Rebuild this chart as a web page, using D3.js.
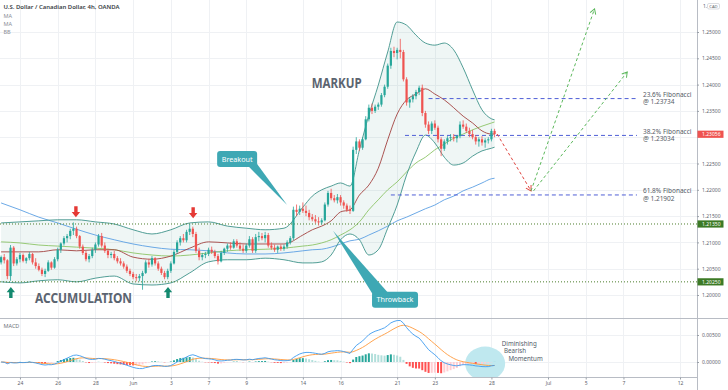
<!DOCTYPE html>
<html>
<head>
<meta charset="utf-8">
<script src="https://cdn.jsdelivr.net/npm/d3@7"></script>
<style>
  html, body { margin: 0; padding: 0; background: #fff; }
  svg { display: block; font-family: 'Noto Sans', Roboto, sans-serif; }
</style>
</head>
<body>
<svg width="728" height="390"></svg>
<script>
// 4h bars from Fri 21 May 2021, six per trading day: [open, high, low, close]
const bars = [
  [1.2062, 1.2075, 1.2058, 1.2072], [1.2072, 1.2078, 1.2060, 1.2066], [1.2066, 1.2068, 1.2030, 1.2036],
  [1.2036, 1.2095, 1.2027, 1.2090], [1.2090, 1.2093, 1.2055, 1.2060], [1.2060, 1.2072, 1.2056, 1.2068],
  [1.2068, 1.2080, 1.2062, 1.2076], [1.2076, 1.2079, 1.2062, 1.2065], [1.2065, 1.2072, 1.2060, 1.2070],
  [1.2070, 1.2082, 1.2066, 1.2078], [1.2078, 1.2080, 1.2058, 1.2062], [1.2062, 1.2070, 1.2050, 1.2055],
  [1.2055, 1.2060, 1.2045, 1.2048], [1.2048, 1.2052, 1.2036, 1.2040], [1.2040, 1.2050, 1.2034, 1.2046],
  [1.2046, 1.2066, 1.2044, 1.2062], [1.2062, 1.2064, 1.2048, 1.2052], [1.2052, 1.2072, 1.2050, 1.2068],
  [1.2068, 1.2090, 1.2064, 1.2086], [1.2086, 1.2100, 1.2080, 1.2098], [1.2098, 1.2112, 1.2094, 1.2108],
  [1.2108, 1.2116, 1.2100, 1.2112], [1.2112, 1.2126, 1.2106, 1.2122], [1.2122, 1.2138, 1.2114, 1.2126],
  [1.2126, 1.2130, 1.2108, 1.2112], [1.2112, 1.2114, 1.2088, 1.2092], [1.2092, 1.2096, 1.2076, 1.2080],
  [1.2080, 1.2084, 1.2064, 1.2068], [1.2068, 1.2078, 1.2062, 1.2074], [1.2074, 1.2090, 1.2070, 1.2086],
  [1.2086, 1.2100, 1.2080, 1.2096], [1.2096, 1.2116, 1.2092, 1.2112], [1.2112, 1.2118, 1.2090, 1.2094],
  [1.2094, 1.2100, 1.2080, 1.2084], [1.2084, 1.2088, 1.2070, 1.2076], [1.2076, 1.2082, 1.2070, 1.2078],
  [1.2078, 1.2084, 1.2066, 1.2070], [1.2070, 1.2074, 1.2060, 1.2064], [1.2064, 1.2070, 1.2056, 1.2060],
  [1.2060, 1.2064, 1.2050, 1.2054], [1.2054, 1.2058, 1.2042, 1.2046], [1.2046, 1.2050, 1.2036, 1.2040],
  [1.2040, 1.2044, 1.2030, 1.2034], [1.2034, 1.2040, 1.2026, 1.2032], [1.2032, 1.2040, 1.2026, 1.2036],
  [1.2036, 1.2046, 1.2010, 1.2042], [1.2042, 1.2066, 1.2040, 1.2062], [1.2062, 1.2068, 1.2052, 1.2058],
  [1.2058, 1.2074, 1.2054, 1.2070], [1.2070, 1.2072, 1.2056, 1.2060], [1.2060, 1.2064, 1.2046, 1.2050],
  [1.2050, 1.2054, 1.2038, 1.2042], [1.2042, 1.2046, 1.2030, 1.2034], [1.2034, 1.2050, 1.2030, 1.2046],
  [1.2046, 1.2064, 1.2042, 1.2060], [1.2060, 1.2086, 1.2058, 1.2082], [1.2082, 1.2104, 1.2078, 1.2100],
  [1.2100, 1.2112, 1.2094, 1.2108], [1.2108, 1.2116, 1.2100, 1.2104], [1.2104, 1.2124, 1.2100, 1.2120],
  [1.2120, 1.2135, 1.2114, 1.2126], [1.2126, 1.2130, 1.2110, 1.2116], [1.2116, 1.2120, 1.2080, 1.2084],
  [1.2084, 1.2090, 1.2066, 1.2072], [1.2072, 1.2080, 1.2066, 1.2076], [1.2076, 1.2082, 1.2070, 1.2078],
  [1.2078, 1.2090, 1.2074, 1.2086], [1.2086, 1.2092, 1.2078, 1.2082], [1.2082, 1.2086, 1.2070, 1.2074],
  [1.2074, 1.2078, 1.2058, 1.2064], [1.2064, 1.2084, 1.2062, 1.2080], [1.2080, 1.2090, 1.2076, 1.2088],
  [1.2088, 1.2098, 1.2082, 1.2094], [1.2094, 1.2100, 1.2086, 1.2090], [1.2090, 1.2106, 1.2088, 1.2102],
  [1.2102, 1.2106, 1.2090, 1.2094], [1.2094, 1.2100, 1.2084, 1.2088], [1.2088, 1.2096, 1.2080, 1.2084],
  [1.2084, 1.2098, 1.2080, 1.2094], [1.2094, 1.2112, 1.2090, 1.2106], [1.2106, 1.2110, 1.2080, 1.2084],
  [1.2084, 1.2116, 1.2080, 1.2110], [1.2110, 1.2120, 1.2102, 1.2112], [1.2112, 1.2118, 1.2104, 1.2108],
  [1.2108, 1.2120, 1.2100, 1.2114], [1.2114, 1.2118, 1.2090, 1.2094], [1.2094, 1.2100, 1.2086, 1.2090],
  [1.2090, 1.2096, 1.2082, 1.2086], [1.2086, 1.2094, 1.2080, 1.2092], [1.2092, 1.2096, 1.2084, 1.2088],
  [1.2088, 1.2096, 1.2084, 1.2092], [1.2092, 1.2104, 1.2088, 1.2100], [1.2100, 1.2112, 1.2096, 1.2108],
  [1.2108, 1.2168, 1.2104, 1.2162], [1.2162, 1.2172, 1.2150, 1.2158], [1.2158, 1.2170, 1.2152, 1.2164],
  [1.2164, 1.2176, 1.2156, 1.2160], [1.2160, 1.2170, 1.2150, 1.2156], [1.2156, 1.2162, 1.2142, 1.2148],
  [1.2148, 1.2154, 1.2140, 1.2144], [1.2144, 1.2152, 1.2136, 1.2140], [1.2140, 1.2148, 1.2132, 1.2138],
  [1.2138, 1.2146, 1.2134, 1.2142], [1.2142, 1.2176, 1.2140, 1.2172], [1.2172, 1.2198, 1.2168, 1.2194],
  [1.2194, 1.2202, 1.2180, 1.2184], [1.2184, 1.2190, 1.2176, 1.2180], [1.2180, 1.2192, 1.2174, 1.2186],
  [1.2186, 1.2190, 1.2170, 1.2176], [1.2176, 1.2180, 1.2164, 1.2170], [1.2170, 1.2174, 1.2158, 1.2162],
  [1.2162, 1.2170, 1.2154, 1.2160], [1.2160, 1.2282, 1.2158, 1.2276], [1.2276, 1.2300, 1.2268, 1.2292],
  [1.2292, 1.2296, 1.2274, 1.2280], [1.2280, 1.2300, 1.2276, 1.2296], [1.2296, 1.2340, 1.2294, 1.2334],
  [1.2334, 1.2362, 1.2330, 1.2356], [1.2356, 1.2364, 1.2344, 1.2350], [1.2350, 1.2362, 1.2346, 1.2358],
  [1.2358, 1.2366, 1.2352, 1.2362], [1.2362, 1.2384, 1.2358, 1.2380], [1.2380, 1.2400, 1.2376, 1.2396],
  [1.2396, 1.2440, 1.2392, 1.2436], [1.2436, 1.2470, 1.2430, 1.2464], [1.2464, 1.2472, 1.2452, 1.2460],
  [1.2460, 1.2470, 1.2448, 1.2466], [1.2466, 1.2487, 1.2450, 1.2462], [1.2462, 1.2466, 1.2406, 1.2410],
  [1.2410, 1.2414, 1.2360, 1.2366], [1.2366, 1.2376, 1.2356, 1.2372], [1.2372, 1.2382, 1.2366, 1.2378],
  [1.2378, 1.2390, 1.2372, 1.2386], [1.2386, 1.2398, 1.2380, 1.2394], [1.2394, 1.2400, 1.2340, 1.2346],
  [1.2346, 1.2350, 1.2318, 1.2324], [1.2324, 1.2330, 1.2306, 1.2312], [1.2312, 1.2330, 1.2306, 1.2326],
  [1.2326, 1.2332, 1.2314, 1.2318], [1.2318, 1.2322, 1.2290, 1.2296], [1.2296, 1.2300, 1.2264, 1.2278],
  [1.2278, 1.2296, 1.2274, 1.2292], [1.2292, 1.2302, 1.2286, 1.2298], [1.2298, 1.2306, 1.2292, 1.2300],
  [1.2300, 1.2306, 1.2292, 1.2298], [1.2298, 1.2304, 1.2290, 1.2302], [1.2302, 1.2330, 1.2298, 1.2324],
  [1.2324, 1.2332, 1.2316, 1.2320], [1.2320, 1.2326, 1.2308, 1.2312], [1.2312, 1.2318, 1.2300, 1.2306],
  [1.2306, 1.2314, 1.2296, 1.2300], [1.2300, 1.2304, 1.2286, 1.2292], [1.2292, 1.2300, 1.2282, 1.2296],
  [1.2296, 1.2302, 1.2284, 1.2290], [1.2290, 1.2298, 1.2280, 1.2294], [1.2294, 1.2300, 1.2288, 1.2296],
  [1.2296, 1.2316, 1.2292, 1.2312], [1.2312, 1.2316, 1.2300, 1.2306],
];

// trading-day index (0 = 21 May) of each date label on the time axis
const dayTicks = [1, 3, 5, 7, 9, 11, 13, 16, 18, 21, 23, 26, 29, 31, 33, 36];
const dayLabels = ['24', '26', '28', 'Jun', '3', '7', '9', '14', '16', '21', '23', '28', 'Jul', '5', '7', '12'];
const priceTicks = [1.200, 1.205, 1.210, 1.215, 1.220, 1.225, 1.230, 1.235, 1.240, 1.245, 1.250];
const hiddenTicks = [1.230];
const macdTicks = [0, 0.005];

// indicator lines at these bar indices
const sampleBars = [0, 6, 12, 18, 24, 30, 36, 42, 48, 54, 60, 66, 72, 78, 84, 90, 96, 99, 102, 105, 108,
  111, 114, 117, 120, 123, 126, 129, 132, 135, 138, 141, 144, 147, 150, 153, 156, 157];
const bbUpper = [1.2137, 1.2139, 1.2141, 1.2143, 1.2143, 1.2139, 1.2135, 1.2124, 1.2116, 1.2124, 1.2137,
  1.2139, 1.2131, 1.2127, 1.2124, 1.2127, 1.2167, 1.2188, 1.2200, 1.2207, 1.2213, 1.2207, 1.2276, 1.2342,
  1.2399, 1.2462, 1.2519, 1.2513, 1.2494, 1.2479, 1.2475, 1.2479, 1.2466, 1.2432, 1.2390, 1.2352, 1.2335, 1.2333];
const bbBasis = [1.2082, 1.2082, 1.2082, 1.2086, 1.2084, 1.2086, 1.2086, 1.2072, 1.2068, 1.2074, 1.2089,
  1.2101, 1.2099, 1.2097, 1.2097, 1.2097, 1.2114, 1.2124, 1.2131, 1.2141, 1.2158, 1.2162, 1.2190, 1.2209,
  1.2241, 1.2295, 1.2344, 1.2371, 1.2382, 1.2392, 1.2382, 1.2371, 1.2356, 1.2340, 1.2327, 1.2312, 1.2306, 1.2306];
const bbLower = [1.2025, 1.2023, 1.2027, 1.2029, 1.2025, 1.2032, 1.2036, 1.2021, 1.2019, 1.2023, 1.2042,
  1.2063, 1.2067, 1.2067, 1.2070, 1.2067, 1.2061, 1.2061, 1.2063, 1.2076, 1.2105, 1.2116, 1.2105, 1.2076,
  1.2086, 1.2127, 1.2171, 1.2228, 1.2272, 1.2304, 1.2289, 1.2262, 1.2247, 1.2251, 1.2264, 1.2274, 1.2279, 1.2281];
const maGreen = [1.2101, 1.2099, 1.2095, 1.2093, 1.2091, 1.2089, 1.2086, 1.2080, 1.2076, 1.2074, 1.2076,
  1.2080, 1.2084, 1.2086, 1.2087, 1.2089, 1.2093, 1.2095, 1.2099, 1.2105, 1.2114, 1.2124, 1.2139, 1.2162,
  1.2181, 1.2200, 1.2215, 1.2234, 1.2251, 1.2262, 1.2276, 1.2287, 1.2298, 1.2306, 1.2314, 1.2321, 1.2327, 1.2329];
const maBlue = [1.2175, 1.2162, 1.2148, 1.2137, 1.2125, 1.2114, 1.2105, 1.2097, 1.2091, 1.2087, 1.2086,
  1.2084, 1.2080, 1.2078, 1.2078, 1.2080, 1.2084, 1.2086, 1.2087, 1.2091, 1.2097, 1.2103, 1.2106, 1.2114,
  1.2122, 1.2131, 1.2141, 1.2148, 1.2156, 1.2164, 1.2171, 1.2181, 1.2188, 1.2198, 1.2205, 1.2213, 1.2221, 1.2222];

const fibNames = ['23.6% Fibonacci', '38.2% Fibonacci', '61.8% Fibonacci'];
const fibValues = [1.23734, 1.23034, 1.21902];
const fibFromBar = [136, 128.5, 124];
const fibToBar = 202.3;
const supportLevels = [1.2135, 1.2025];
const lastPrice = 1.23056;

// arrows marking the range tops and bottoms: [bar, price at the arrow tip]
const topArrows = [[23.8, 1.2148], [61.1, 1.2146]];
const bottomArrows = [[3.1, 1.2015], [53.1, 1.2015]];
// projected path: [bar, price] pairs
const dropPath = [[157.8, 1.2306], [168.6, 1.2198]];
const risePaths = [
  [[168.6, 1.2198], [188.8, 1.2544]],
  [[169.4, 1.2198], [199.2, 1.2424]],
];

const W = 728;
const plotW = 697;
const mainBottom = 318;
const macdBottom = 378;

const x = d3.scaleLinear().domain([-0.35, 221.4]).range([0, plotW]);
const y = d3.scaleLinear().domain([1.2, 1.25]).range([295, 32]);
const yM = d3.scaleLinear().domain([0, 0.005]).range([362, 335]);

const up = '#26a69a';
const down = '#ef5350';

function ema(values, n) {
  const k = 2 / (n + 1);
  let prev;
  return values.map((v, i) => (prev = i === 0 ? v : v * k + prev * (1 - k)));
}

const svg = d3.select('svg');
const defs = svg.append('defs');
defs.append('clipPath').attr('id', 'clip-main')
  .append('rect').attr('x', 0).attr('y', 0).attr('width', plotW).attr('height', mainBottom);
defs.append('clipPath').attr('id', 'clip-macd')
  .append('rect').attr('x', 0).attr('y', mainBottom + 0.5).attr('width', plotW).attr('height', macdBottom - mainBottom - 0.5);
[['head-red', '#e0453f'], ['head-green', '#5cb85c']].forEach(([id, color]) => {
  defs.append('marker').attr('id', id)
    .attr('viewBox', '-6 -4 7 8').attr('refX', 0).attr('refY', 0)
    .attr('markerWidth', 7).attr('markerHeight', 8).attr('markerUnits', 'userSpaceOnUse')
    .attr('orient', 'auto')
    .append('path').attr('d', 'M-5,-3L0,0L-5,3')
    .attr('fill', 'none').attr('stroke', color).attr('stroke-width', 1);
});

const px = v => Math.round(v) + 0.5;

// grid
const grid = svg.append('g');
grid.selectAll('.vgrid').data(dayTicks).enter().append('line')
  .attr('x1', d => px(x(d * 6))).attr('x2', d => px(x(d * 6)))
  .attr('y1', 0).attr('y2', macdBottom)
  .attr('stroke', '#eff1f4');
grid.selectAll('.hgrid').data(priceTicks).enter().append('line')
  .attr('x1', 0).attr('x2', plotW)
  .attr('y1', d => px(y(d))).attr('y2', d => px(y(d)))
  .attr('stroke', '#eff1f4');
grid.selectAll('.mgrid').data(macdTicks).enter().append('line')
  .attr('x1', 0).attr('x2', plotW)
  .attr('y1', d => px(yM(d))).attr('y2', d => px(yM(d)))
  .attr('stroke', '#eff1f4');

const main = svg.append('g').attr('clip-path', 'url(#clip-main)');

// bollinger fill and lines
const bandPts = sampleBars.map((b, i) => ({bar: b, hi: bbUpper[i], lo: bbLower[i]}));
main.append('path')
  .datum(bandPts)
  .attr('d', d3.area().x(d => x(d.bar)).y0(d => y(d.lo)).y1(d => y(d.hi)).curve(d3.curveMonotoneX))
  .attr('fill', '#198475')
  .attr('fill-opacity', 0.07);

const sampled = vals => sampleBars.map((b, i) => [b, vals[i]]);
const priceLine = d3.line().x(d => x(d[0])).y(d => y(d[1])).curve(d3.curveMonotoneX);
const lines = [
  {vals: maBlue, color: '#5b9fe3'},
  {vals: maGreen, color: '#8cc466'},
  {vals: bbUpper, color: '#3e938a'},
  {vals: bbLower, color: '#3e938a'},
  {vals: bbBasis, color: '#a3423f'},
];
main.selectAll('.ind').data(lines).enter().append('path')
  .attr('class', 'ind')
  .attr('d', d => priceLine(sampled(d.vals)))
  .attr('fill', 'none')
  .attr('stroke', d => d.color)
  .attr('stroke-width', 0.9);

// support levels
main.selectAll('.support').data(supportLevels).enter().append('line')
  .attr('x1', 0).attr('x2', plotW)
  .attr('y1', d => y(d)).attr('y2', d => y(d))
  .attr('stroke', '#4c7d2c')
  .attr('stroke-width', 1)
  .attr('stroke-dasharray', '1,2');

// fibonacci levels
main.selectAll('.fib').data(fibValues).enter().append('line')
  .attr('x1', (d, i) => x(fibFromBar[i])).attr('x2', x(fibToBar))
  .attr('y1', d => y(d)).attr('y2', d => y(d))
  .attr('stroke', '#4f5fd6')
  .attr('stroke-width', 1)
  .attr('stroke-dasharray', '4,3');
const fibText = main.selectAll('.fibtext').data(fibValues).enter().append('text')
  .attr('x', x(fibToBar + 1.9))
  .attr('y', d => y(d))
  .attr('font-size', 6.5)
  .attr('fill', '#555b66');
fibText.append('tspan').attr('x', x(fibToBar + 1.9)).attr('dy', -1.8).text((d, i) => fibNames[i]);
fibText.append('tspan').attr('x', x(fibToBar + 1.9)).attr('dy', 7.6).text(d => '@ ' + d3.format('.5f')(d));

// candles
const candle = main.selectAll('.candle').data(bars).enter().append('g')
  .attr('class', 'candle');
candle.append('line')
  .attr('x1', (d, i) => x(i)).attr('x2', (d, i) => x(i))
  .attr('y1', d => y(d[1])).attr('y2', d => y(d[2]))
  .attr('stroke', d => d[3] >= d[0] ? up : down)
  .attr('stroke-width', 0.8);
candle.append('rect')
  .attr('x', (d, i) => x(i) - 1.1)
  .attr('width', 2.2)
  .attr('y', d => y(Math.max(d[0], d[3])))
  .attr('height', d => Math.max(0.8, Math.abs(y(d[0]) - y(d[3]))))
  .attr('fill', d => d[3] >= d[0] ? up : down);

// projections
main.append('path')
  .datum(dropPath)
  .attr('d', d3.line().x(d => x(d[0])).y(d => y(d[1])))
  .attr('fill', 'none')
  .attr('stroke', '#e0453f')
  .attr('stroke-dasharray', '3,2.5')
  .attr('marker-end', 'url(#head-red)');
main.selectAll('.rise').data(risePaths).enter().append('path')
  .attr('d', d3.line().x(d => x(d[0])).y(d => y(d[1])))
  .attr('fill', 'none')
  .attr('stroke', '#5cb85c')
  .attr('stroke-dasharray', '3,2.5')
  .attr('marker-end', 'url(#head-green)');

// block arrows at range extremes
const arrowDown = 'M0,0L-4.2,-5.2L-1.7,-5.2L-1.7,-11L1.7,-11L1.7,-5.2L4.2,-5.2Z';
main.selectAll('.top-arrow').data(topArrows).enter().append('path')
  .attr('transform', d => `translate(${x(d[0])},${y(d[1])})`)
  .attr('d', arrowDown)
  .attr('fill', '#e53935');
main.selectAll('.bottom-arrow').data(bottomArrows).enter().append('path')
  .attr('transform', d => `translate(${x(d[0])},${y(d[1])}) rotate(180)`)
  .attr('d', arrowDown)
  .attr('fill', '#13896f');

// phase labels
main.append('text')
  .attr('x', x(10.8)).attr('y', y(1.1985))
  .attr('font-size', 15).attr('font-weight', 700)
  .attr('textLength', 97).attr('lengthAdjust', 'spacingAndGlyphs')
  .attr('fill', '#5b6470')
  .text('ACCUMULATION');
main.append('text')
  .attr('x', x(98.8)).attr('y', y(1.2394))
  .attr('font-size', 15).attr('font-weight', 700)
  .attr('textLength', 50).attr('lengthAdjust', 'spacingAndGlyphs')
  .attr('fill', '#5b6470')
  .text('MARKUP');

// callouts: tip in data space, box and tail offset in pixels
const callouts = [
  {text: 'Breakout', tip: [91, 1.2171], box: [-70, -54, 40, 16], tail: [[-39, -39], [-30, -41]]},
  {text: 'Throwback', tip: [105.6, 1.2122], box: [39, 61, 46, 16], tail: [[40, 64], [55, 62]]},
];
const callout = main.selectAll('.callout').data(callouts).enter().append('g')
  .attr('transform', d => `translate(${x(d.tip[0])},${y(d.tip[1])})`);
callout.append('path')
  .attr('d', d => `M0,0L${d.tail[0][0]},${d.tail[0][1]}L${d.tail[1][0]},${d.tail[1][1]}Z`)
  .attr('fill', '#3ea8b4');
callout.append('rect')
  .attr('x', d => d.box[0]).attr('y', d => d.box[1])
  .attr('width', d => d.box[2]).attr('height', d => d.box[3])
  .attr('rx', 3)
  .attr('fill', '#3ea8b4');
callout.append('text')
  .attr('x', d => d.box[0] + d.box[2] / 2).attr('y', d => d.box[1] + d.box[3] / 2 + 2.5)
  .attr('text-anchor', 'middle')
  .attr('font-size', 7.2)
  .attr('fill', '#fff')
  .text(d => d.text);

// MACD pane
const closes = bars.map(b => b[3]);
const e12 = ema(closes, 12);
const e26 = ema(closes, 26);
const macd = closes.map((c, i) => e12[i] - e26[i]);
const signal = ema(macd, 9);
const hist = macd.map((m, i) => m - signal[i]);

const pane = svg.append('g').attr('clip-path', 'url(#clip-macd)');
pane.append('ellipse')
  .attr('cx', x(154)).attr('cy', yM(-0.0003))
  .attr('rx', 20).attr('ry', 17)
  .attr('fill', '#bfe8ef');
pane.selectAll('.hist').data(hist).enter().append('rect')
  .attr('x', (d, i) => x(i) - 1)
  .attr('width', 2)
  .attr('y', d => Math.min(yM(d), yM(0)))
  .attr('height', d => Math.abs(yM(d) - yM(0)))
  .attr('fill', (d, i) => {
    const prev = i > 0 ? hist[i - 1] : 0;
    if (d >= 0) {
      return d >= prev ? '#26a69a' : '#b2dfdb';
    }
    return d <= prev ? '#ff5252' : '#ffcdd2';
  });
const macdLine = d3.line().x((d, i) => x(i)).y(d => yM(d));
pane.append('path').datum(signal).attr('d', macdLine)
  .attr('fill', 'none').attr('stroke', '#ff9a3c').attr('stroke-width', 0.9);
pane.append('path').datum(macd).attr('d', macdLine)
  .attr('fill', 'none').attr('stroke', '#3d9bef').attr('stroke-width', 0.9);

const note = ['Diminishing', 'Bearish', 'Momentum'];
svg.selectAll('.note').data(note).enter().append('text')
  .attr('x', (d, i) => x(159.3) + [0, 2.3, 6.6][i])
  .attr('y', (d, i) => yM(0.00305) + i * 7.8)
  .attr('font-size', 6.2)
  .attr('fill', '#525c68')
  .text(d => d);

// frame
svg.append('line').attr('x1', 0).attr('x2', W).attr('y1', mainBottom + 0.5).attr('y2', mainBottom + 0.5)
  .attr('stroke', '#b8bcc4');
svg.append('line').attr('x1', 0).attr('x2', plotW).attr('y1', macdBottom - 0.5).attr('y2', macdBottom - 0.5)
  .attr('stroke', '#b8bcc4');
svg.append('line').attr('x1', plotW + 0.5).attr('x2', plotW + 0.5).attr('y1', 0).attr('y2', 390)
  .attr('stroke', '#b8bcc4');

// axes
const styleAxis = g => {
  g.select('.domain').remove();
  g.selectAll('line').attr('stroke', '#9aa0a8');
  g.selectAll('text').attr('font-size', 5).attr('fill', '#5d626b').attr('font-family', 'Noto Sans, sans-serif');
};
svg.append('g')
  .attr('transform', `translate(${plotW},0)`)
  .call(d3.axisRight(y)
    .tickValues(priceTicks.filter(p => !hiddenTicks.includes(p)))
    .tickFormat(d3.format('.5f'))
    .tickSize(2).tickPadding(3))
  .call(styleAxis);
svg.append('g')
  .attr('transform', `translate(${plotW},0)`)
  .call(d3.axisRight(yM).tickValues(macdTicks).tickFormat(d3.format('.5f')).tickSize(2).tickPadding(3))
  .call(styleAxis);
svg.append('g')
  .attr('transform', `translate(0,${macdBottom - 0.5})`)
  .call(d3.axisBottom(x)
    .tickValues(dayTicks.map(d => d * 6))
    .tickFormat((d, i) => dayLabels[i])
    .tickSize(2).tickPadding(1.5))
  .call(styleAxis);

// price badges on the scale
const badges = [
  {value: lastPrice, color: '#ef5350'},
  {value: supportLevels[0], color: '#3c7a25'},
  {value: supportLevels[1], color: '#3c7a25'},
];
const badge = svg.selectAll('.badge').data(badges).enter().append('g')
  .attr('transform', d => `translate(${plotW},${y(d.value)})`);
badge.append('rect')
  .attr('x', 0.5).attr('y', -3.6).attr('width', 26).attr('height', 7.2)
  .attr('fill', d => d.color);
badge.append('text')
  .attr('x', 5).attr('y', 1.8)
  .attr('font-size', 5).attr('fill', '#fff')
  .text(d => d3.format('.5f')(d.value));

// currency tag at the top of the scale
svg.append('text').attr('x', 703).attr('y', 7.5).attr('font-size', 5).attr('fill', '#5d626b').text('1.');
svg.append('rect').attr('x', 707.5).attr('y', 3.5).attr('width', 12).attr('height', 5.5).attr('rx', 1.5)
  .attr('fill', '#fff').attr('stroke', '#c3c6cc').attr('stroke-width', 0.6);
svg.append('text').attr('x', 713.5).attr('y', 7.6).attr('text-anchor', 'middle')
  .attr('font-size', 4.2).attr('fill', '#5d626b').text('CAD');

// legend
svg.append('text').attr('x', 3.5).attr('y', 9.2)
  .attr('font-size', 6).attr('font-weight', 600).attr('fill', '#3a3e46')
  .attr('textLength', 116).attr('lengthAdjust', 'spacingAndGlyphs')
  .text('U.S. Dollar / Canadian Dollar, 4h, OANDA');
svg.selectAll('.legend').data(['MA', 'MA', 'BB']).enter().append('text')
  .attr('x', 3.5).attr('y', (d, i) => 17.5 + i * 8.3)
  .attr('font-size', 5.5).attr('fill', '#8a8e96')
  .text(d => d);
svg.append('text').attr('x', 3.5).attr('y', 328)
  .attr('font-size', 5.5).attr('fill', '#6f737b')
  .text('MACD');
</script>
</body>
</html>
